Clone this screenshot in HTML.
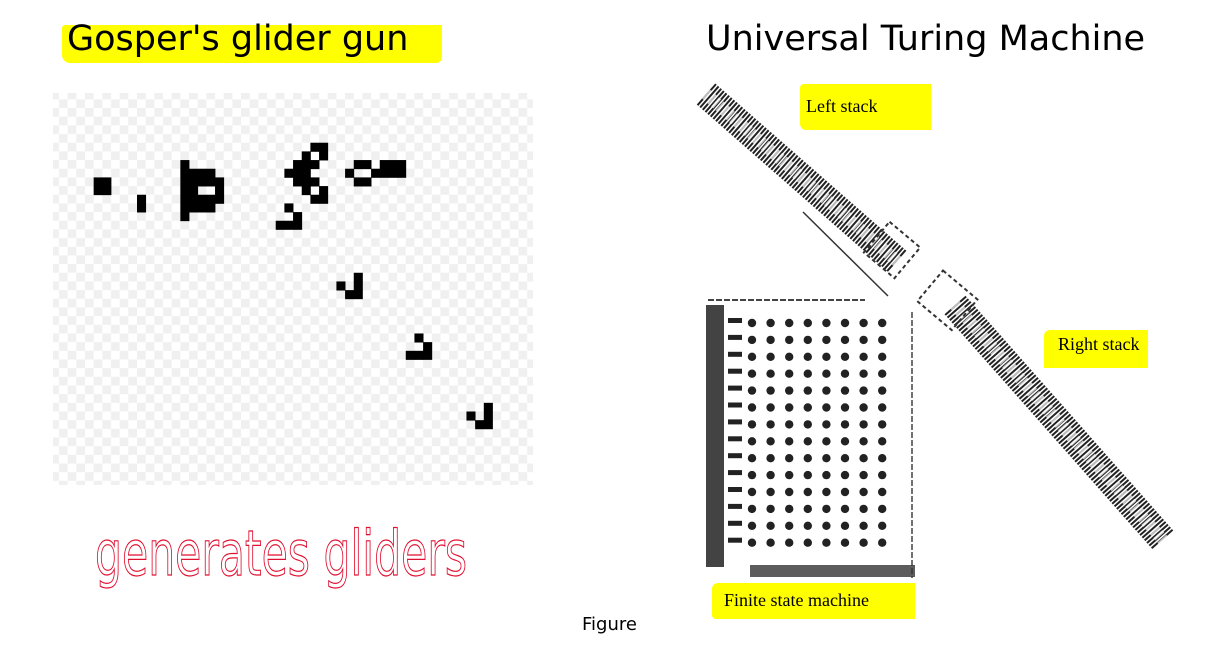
<!DOCTYPE html>
<html><head><meta charset="utf-8"><style>
body{margin:0;background:#fff;width:1207px;height:666px;overflow:hidden;position:relative;font-family:"DejaVu Sans","Liberation Sans",sans-serif}
.t{position:absolute;font-size:35px;color:#000;white-space:nowrap}
.hl{position:absolute;background:#ffff00}
.lbl{position:absolute;font-family:"Liberation Serif",serif;font-size:18px;color:#000;white-space:nowrap}
</style></head><body>
<div class="hl" style="left:62px;top:25px;width:380px;height:38px;border-radius:3px 0 6px 8px"></div>
<div class="t" style="left:67px;top:19px">Gosper's glider gun</div>
<div class="t" style="left:706px;top:19px">Universal Turing Machine</div>

<svg id="gun" width="1207" height="666" style="position:absolute;left:0;top:0">
<defs><pattern id="chk" x="50.3" y="90.7" width="17.34" height="17.34" patternUnits="userSpaceOnUse">
<rect width="17.34" height="17.34" fill="#fff"/><rect width="8.67" height="8.67" fill="#f0f0f0"/><rect x="8.67" y="8.67" width="8.67" height="8.67" fill="#f0f0f0"/></pattern></defs>
<rect x="53" y="93" width="480" height="392" fill="url(#chk)"/>
<g id="cells"></g>
</svg>

<svg id="utm" width="1207" height="666" style="position:absolute;left:0;top:0">
<g id="band">
<line x1="706" y1="94" x2="898" y2="262" stroke="#222" stroke-width="28" stroke-dasharray="2 1.5"/>
<line x1="706" y1="94" x2="898" y2="262" stroke="#fff" stroke-width="12" stroke-dasharray="3 3" opacity="0.7"/>
<line x1="955" y1="305" x2="1163" y2="540" stroke="#222" stroke-width="28" stroke-dasharray="2 1.5"/>
<line x1="955" y1="305" x2="1163" y2="540" stroke="#fff" stroke-width="12" stroke-dasharray="3 3" opacity="0.7"/>
<rect x="872" y="230" width="40" height="40" fill="none" stroke="#333" stroke-width="2" stroke-dasharray="4 3" transform="rotate(40 892 250)"/>
<rect x="925" y="280" width="45" height="40" fill="none" stroke="#333" stroke-width="2" stroke-dasharray="4 3" transform="rotate(40 947 300)"/>
<line x1="803" y1="212" x2="888" y2="296" stroke="#333" stroke-width="1.5"/>
</g>
<line x1="708" y1="300" x2="865" y2="300" stroke="#444" stroke-width="2" stroke-dasharray="6 2"/>
<line x1="912" y1="312" x2="912" y2="578" stroke="#444" stroke-width="1.5" stroke-dasharray="6 2"/>
<rect x="706" y="305" width="18" height="262" fill="#222" opacity="0.85"/>
<rect x="750" y="565" width="165" height="12" fill="#333" opacity="0.8"/>
<g id="dots"></g>
</svg>

<div class="hl" style="left:800px;top:84px;width:131px;height:46px;border-radius:4px 0 0 6px"></div>
<div class="lbl" style="left:806px;top:96px">Left stack</div>
<div class="hl" style="left:1044px;top:330px;width:104px;height:38px;border-radius:6px 0 0 0"></div>
<div class="lbl" style="left:1058px;top:334px">Right stack</div>
<div class="hl" style="left:712px;top:583px;width:203px;height:36px;border-radius:6px 0 0 4px"></div>
<div class="lbl" style="left:724px;top:590px">Finite state machine</div>

<svg width="1207" height="666" style="position:absolute;left:0;top:0">
<text x="95" y="575" font-family="DejaVu Sans, sans-serif" font-size="62" fill="none" stroke="#e01030" stroke-width="1.2" textLength="372" lengthAdjust="spacingAndGlyphs">generates  gliders</text>
</svg>
<div style="position:absolute;left:582px;top:614px;font-size:18px">Figure</div>

<script>
const cellCols=[5,6,5,6,10,10,15,15,16,17,18,15,16,17,18,19,15,16,19,15,16,17,18,19,15,16,17,18,15,
30,31,29,31,28,29,30,27,28,29,28,29,30,29,31,30,31,27,28,26,27,28,
35,36,38,39,40,34,37,38,39,40,35,36,
35,33,35,34,35,42,43,41,42,43,50,48,50,49,50];
const cellRows=[10,10,11,11,12,13,8,9,9,9,9,10,10,10,10,10,11,11,11,12,12,12,12,12,13,13,13,13,14,
6,6,7,7,8,8,8,9,9,9,10,10,10,11,11,12,12,13,14,15,15,15,
8,8,8,8,8,9,9,9,9,9,10,10,
21,22,22,23,23,28,29,30,30,30,36,37,37,38,38];
const ox=50.3,oy=90.7,cs=8.67;
const g=document.getElementById('cells');
for(let i=0;i<cellCols.length;i++){
 const r=document.createElementNS('http://www.w3.org/2000/svg','rect');
 r.setAttribute('x',ox+cellCols[i]*cs);r.setAttribute('y',oy+cellRows[i]*cs);
 r.setAttribute('width',cs+0.4);r.setAttribute('height',cs+0.4);r.setAttribute('fill','#000');
 
 
 g.appendChild(r);
}
const dotCols=[0,1,2,3,4,5,6,7];
const dotRows=[0,1,2,3,4,5,6,7,8,9,10,11,12,13];
const d=document.getElementById('dots');
dotRows.forEach(rr=>dotCols.forEach(cc=>{
 const c=document.createElementNS('http://www.w3.org/2000/svg','circle');
 c.setAttribute('cx',752+cc*18.6);c.setAttribute('cy',323+rr*16.9);c.setAttribute('r',4.2);c.setAttribute('fill','#222');
 
 
 d.appendChild(c);
 const m=document.createElementNS('http://www.w3.org/2000/svg','rect');
 m.setAttribute('x',728);m.setAttribute('y',318+rr*16.9);m.setAttribute('width',14);m.setAttribute('height',5);m.setAttribute('fill','#222');
 if(cc===0)d.appendChild(m);
}));
</script>
</body></html>
